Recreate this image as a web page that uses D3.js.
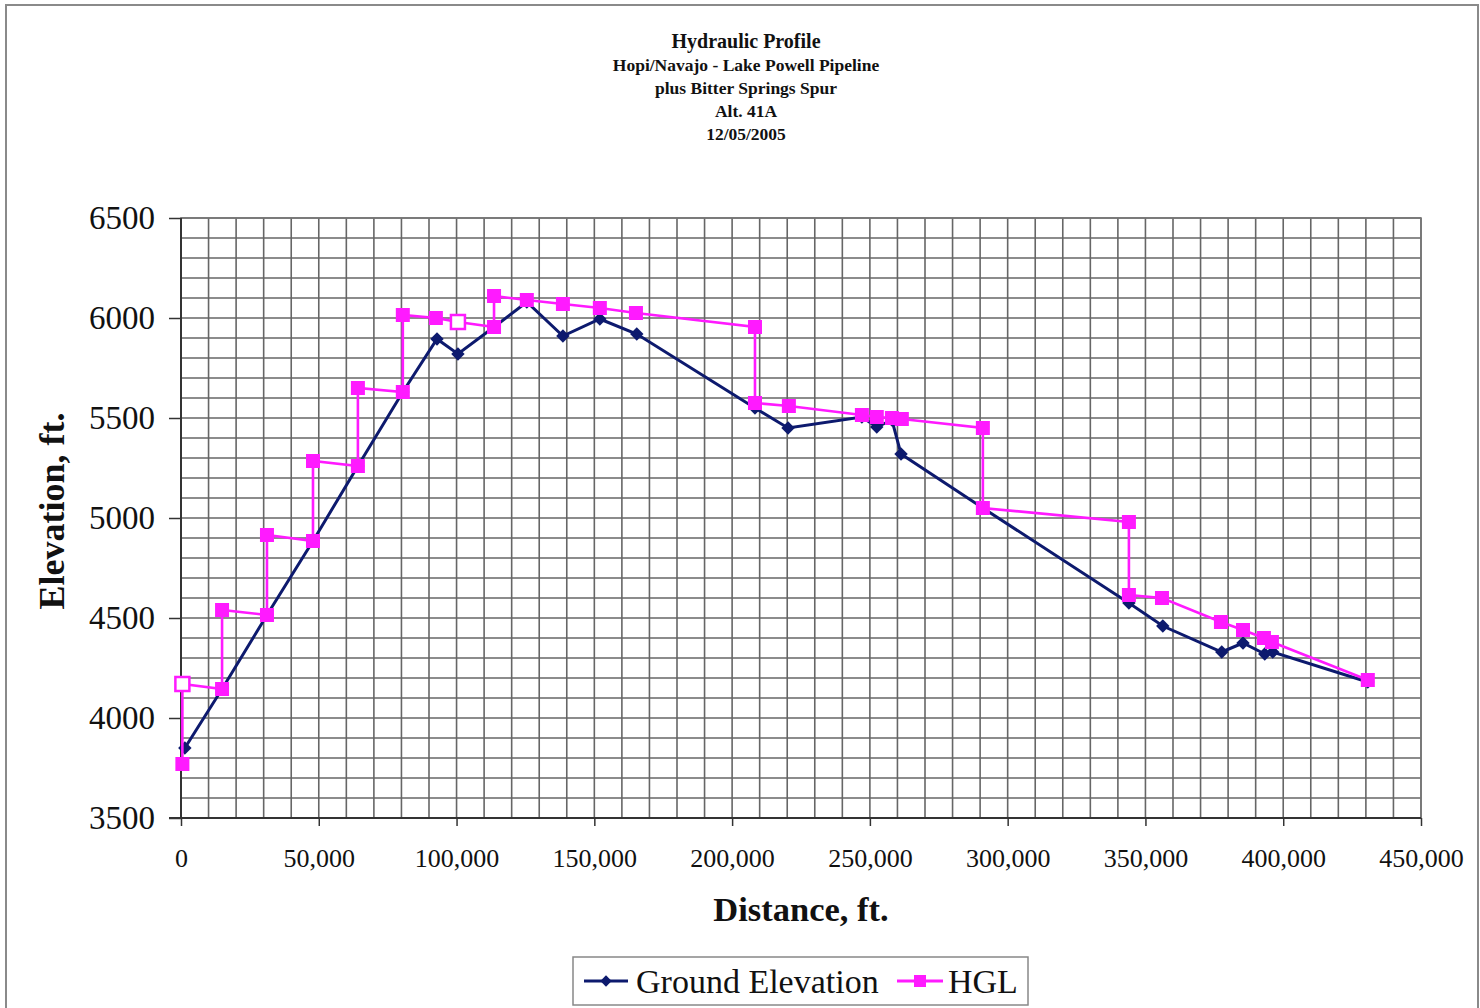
<!DOCTYPE html>
<html><head><meta charset="utf-8">
<script src="https://cdn.jsdelivr.net/npm/d3@7"></script>
<style>body{margin:0;background:#fff;}svg{display:block;}</style>
</head><body>
<svg id="c" width="1480" height="1008"></svg>
<script>
const titleLines = ["Hydraulic Profile","Hopi/Navajo - Lake Powell Pipeline","plus Bitter Springs Spur","Alt. 41A","12/05/2005"];
const xTicks = [0,50000,100000,150000,200000,250000,300000,350000,400000,450000];
const yTicks = [3500,4000,4500,5000,5500,6000,6500];
const seriesNames = ["Ground Elevation","HGL"];

const groundX = [1400,14900,31200,47900,64200,80500,92900,100500,113600,125500,138600,152000,165400,208300,220300,247100,252500,258000,261300,291000,344000,356300,377700,385400,393300,396200,430700];
const groundY = [3850,4145,4515,4885,5260,5630,5895,5820,5955,6080,5910,5995,5920,5550,5450,5505,5455,5490,5320,5050,4575,4460,4330,4375,4320,4330,4180];

const hglX = [500,500,14900,14900,31200,31200,47900,47900,64200,64200,80500,80500,92500,100500,113600,113600,125500,138600,152000,165100,208300,208300,220600,247100,252500,258000,261600,291000,291000,344000,344000,356000,377400,385400,393000,395900,430700];
const hglY = [3770,4170,4145,4540,4515,4915,4885,5285,5260,5650,5630,6015,6000,5980,5955,6110,6090,6070,6050,6025,5955,5575,5560,5515,5505,5500,5495,5450,5050,4980,4615,4600,4480,4440,4400,4380,4190];
const hglHollow = [1,13];

const svg = d3.select("#c");
const serif = "'Liberation Serif','Times New Roman',serif";

svg.append("rect").attr("x",6).attr("y",5).attr("width",1472).attr("height",1010)
  .attr("fill","#fff").attr("stroke","#8a8a8a").attr("stroke-width",2);

const L=181,R=1421,T=218,B=818;
const x = d3.scaleLinear().domain([0,450000]).range([L,R]);
const y = d3.scaleLinear().domain([3500,6500]).range([B,T]);

const g = svg.append("g");
g.selectAll("line.vx").data(d3.range(10000,450001,10000)).join("line")
  .attr("x1",d=>x(d)).attr("x2",d=>x(d)).attr("y1",T).attr("y2",B)
  .attr("stroke","#666").attr("stroke-width",1.6);
g.selectAll("line.hy").data(d3.range(3600,6501,100)).join("line")
  .attr("x1",L).attr("x2",R).attr("y1",d=>y(d)).attr("y2",d=>y(d))
  .attr("stroke","#666").attr("stroke-width",1.6);
g.append("rect").attr("x",L).attr("y",T).attr("width",R-L).attr("height",B-T)
  .attr("fill","none").attr("stroke","#777").attr("stroke-width",1.6);

const xAxis = d3.axisBottom(x).tickValues(xTicks).tickSize(8)
  .tickFormat(d=>d===0?"0":d3.format(",")(d));
const gx = svg.append("g").attr("transform",`translate(0,${B})`).call(xAxis);
gx.select(".domain").attr("stroke","#333").attr("stroke-width",2).attr("d",`M${L-12},0H${R}`);
gx.selectAll(".tick line").attr("stroke","#333").attr("stroke-width",1.5);
gx.selectAll("text").attr("font-family",serif).attr("font-size",26).attr("fill","#111").attr("dy","0.35em").attr("y",40);

const yAxis = d3.axisLeft(y).tickValues(yTicks).tickSize(12).tickPadding(14).tickFormat(d3.format("d"));
const gy = svg.append("g").attr("transform",`translate(${L},0)`).call(yAxis);
gy.select(".domain").attr("stroke","#333").attr("stroke-width",2).attr("d",`M0,${T}V${B}`);
gy.selectAll(".tick line").attr("stroke","#333").attr("stroke-width",1.5);
gy.selectAll("text").attr("font-family",serif).attr("font-size",33).attr("fill","#111").attr("dy","0.33em");

const ground = groundX.map((d,i)=>({x:d,y:groundY[i]}));
const hgl = hglX.map((d,i)=>({x:d,y:hglY[i],i}));
const line = d3.line().x(d=>x(d.x)).y(d=>y(d.y));
const navy="#0d1a6e", mag="#ff1aff";

svg.append("path").datum(ground).attr("d",line).attr("fill","none").attr("stroke",navy).attr("stroke-width",3);
svg.selectAll("path.gm").data(ground).join("path")
  .attr("d",d3.symbol(d3.symbolSquare,90)).attr("transform",d=>`translate(${x(d.x)},${y(d.y)}) rotate(45)`).attr("fill",navy);

svg.append("path").datum(hgl).attr("d",line).attr("fill","none").attr("stroke",mag).attr("stroke-width",2.6);
svg.selectAll("rect.hm").data(hgl).join("rect")
  .attr("x",d=>x(d.x)-7).attr("y",d=>y(d.y)-7).attr("width",14).attr("height",14)
  .attr("fill",d=>hglHollow.includes(d.i)?"#fff":mag)
  .attr("stroke",mag).attr("stroke-width",d=>hglHollow.includes(d.i)?2.5:0);

titleLines.forEach((t,i)=>{
  svg.append("text").attr("x",746).attr("y",i===0?48:71+(i-1)*23).attr("text-anchor","middle")
    .attr("font-family",serif).attr("font-weight","bold").attr("font-size",i===0?20:17.5).attr("fill","#111").text(t);
});
svg.append("text").attr("x",801).attr("y",921).attr("text-anchor","middle").attr("font-family",serif)
  .attr("font-weight","bold").attr("font-size",34.5).attr("fill","#111").text("Distance, ft.");
svg.append("text").attr("transform","translate(64,511) rotate(-90)").attr("text-anchor","middle").attr("font-family",serif)
  .attr("font-weight","bold").attr("font-size",36).attr("fill","#111").text("Elevation, ft.");

const lg = svg.append("g");
lg.append("rect").attr("x",573).attr("y",957).attr("width",455).attr("height",48).attr("fill","#fff").attr("stroke","#888").attr("stroke-width",1.5);
lg.append("line").attr("x1",584).attr("x2",628).attr("y1",981).attr("y2",981).attr("stroke",navy).attr("stroke-width",3);
lg.append("path").attr("d",d3.symbol(d3.symbolSquare,64)).attr("transform","translate(606,981) rotate(45)").attr("fill",navy);
lg.append("text").attr("x",636).attr("y",993).attr("font-family",serif).attr("font-size",34).attr("fill","#111").text(seriesNames[0]);
lg.append("line").attr("x1",897).attr("x2",943).attr("y1",981).attr("y2",981).attr("stroke",mag).attr("stroke-width",3);
lg.append("rect").attr("x",914).attr("y",975).attr("width",12).attr("height",12).attr("fill",mag);
lg.append("text").attr("x",948).attr("y",993).attr("font-family",serif).attr("font-size",34).attr("fill","#111").text(seriesNames[1]);
</script>
</body></html>
